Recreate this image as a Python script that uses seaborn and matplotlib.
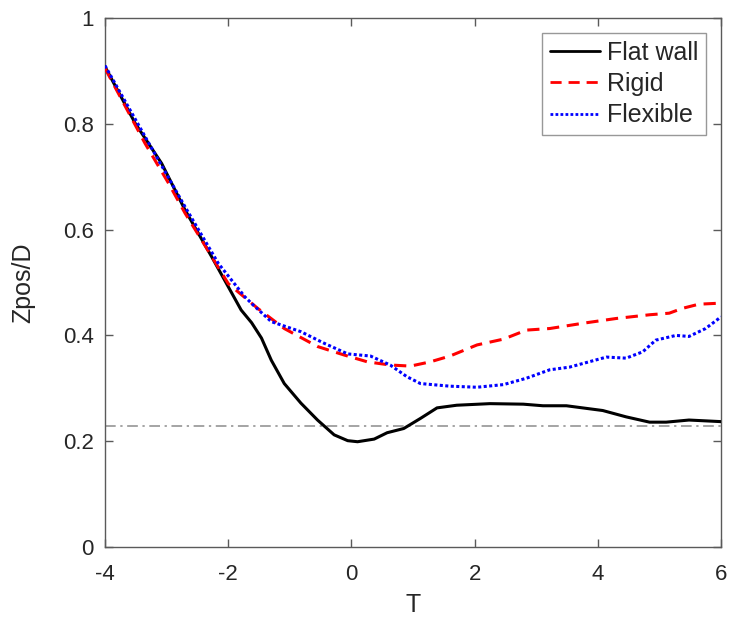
import numpy as np
import pandas as pd
import matplotlib
matplotlib.use("Agg")
import matplotlib.pyplot as plt
import seaborn as sns

# Vertical position of the body (Zpos/D) versus time T for three wall types
t_flat = [-4.0, -3.51, -3.08, -2.70, -2.27, -1.79, -1.62, -1.46, -1.30, -1.09, -0.82,
          -0.55, -0.28, -0.06, 0.10, 0.37, 0.58, 0.85, 1.12, 1.39, 1.71, 2.25, 2.79,
          3.11, 3.49, 4.08, 4.46, 4.84, 5.11, 5.48, 6.0]
z_flat = [0.908, 0.801, 0.725, 0.637, 0.549, 0.448, 0.424, 0.395, 0.353, 0.309, 0.272,
          0.240, 0.212, 0.201, 0.199, 0.204, 0.216, 0.224, 0.243, 0.263, 0.268, 0.271, 0.270,
          0.267, 0.267, 0.258, 0.246, 0.236, 0.236, 0.240, 0.237]

t_rigid = [-4.0, -3.35, -2.97, -2.70, -2.43, -2.00, -1.52, -1.09, -0.55, -0.12, 0.26,
           0.63, 0.96, 1.28, 1.60, 2.04, 2.47, 2.84, 3.22, 3.76, 4.30, 4.84, 5.16, 5.37,
           5.64, 6.0]
z_rigid = [0.905, 0.763, 0.688, 0.631, 0.580, 0.498, 0.451, 0.413, 0.379, 0.363, 0.350,
           0.344, 0.342, 0.350, 0.361, 0.382, 0.393, 0.410, 0.413, 0.423, 0.432, 0.439, 0.442,
           0.451, 0.459, 0.461]

t_flex = [-4.0, -3.35, -2.70, -2.16, -1.73, -1.59, -1.30, -0.82, -0.44, -0.06, 0.31,
          0.63, 0.90, 1.12, 1.60, 2.04, 2.47, 2.84, 3.22, 3.54, 4.14, 4.46, 4.73, 4.94,
          5.27, 5.48, 5.75, 6.0]
z_flex = [0.910, 0.776, 0.643, 0.536, 0.473, 0.457, 0.426, 0.407, 0.385, 0.365, 0.361,
          0.344, 0.322, 0.309, 0.304, 0.302, 0.307, 0.319, 0.335, 0.340, 0.359, 0.357, 0.369,
          0.391, 0.400, 0.398, 0.413, 0.435]

z_ref = 0.228  # reference height (dash-dot line)

labels = ["Flat wall", "Rigid", "Flexible"]
colors = ["black", "#ff0000", "#0000ff"]

df = pd.concat([
    pd.DataFrame({"T": t_flat, "Z": z_flat, "case": labels[0]}),
    pd.DataFrame({"T": t_rigid, "Z": z_rigid, "case": labels[1]}),
    pd.DataFrame({"T": t_flex, "Z": z_flex, "case": labels[2]}),
], ignore_index=True)

sns.set_theme(style="ticks")
plt.rcParams["font.family"] = ["Liberation Sans", "DejaVu Sans"]
axis_col = "#5a5a5a"
text_col = "#262626"

fig = plt.figure(figsize=(7.29, 6.17), dpi=100)
ax = fig.add_axes([105 / 729, 1 - 547 / 617, (721 - 105) / 729, (547 - 18) / 617])

ax.axhline(z_ref, color="#8c8c8c", lw=1.1, ls=(0, (7, 3, 1.5, 3)), zorder=1)

sns.lineplot(data=df, x="T", y="Z", hue="case", style="case",
             hue_order=labels, style_order=labels,
             palette=dict(zip(labels, colors)),
             dashes={labels[0]: "", labels[1]: (4, 2.5), labels[2]: (1, 0.8)},
             linewidth=2.2, sort=False, estimator=None, ax=ax, zorder=3)

ax.set_xlim(-4, 6)
ax.set_ylim(0, 1)
ax.set_xticks([-4, -2, 0, 2, 4, 6])
ax.set_xticklabels(["-4", "-2", "0", "2", "4", "6"])
ax.set_yticks([0, 0.2, 0.4, 0.6, 0.8, 1])
ax.set_yticklabels(["0", "0.2", "0.4", "0.6", "0.8", "1"])
ax.set_xlabel("T", fontsize=18, color=text_col, labelpad=6)
ax.set_ylabel("Zpos/D", fontsize=18, color=text_col, labelpad=20)

for s in ax.spines.values():
    s.set_visible(True)
    s.set_color(axis_col)
    s.set_linewidth(1.0)
ax.tick_params(direction="in", length=6, width=1.0, colors=axis_col,
               labelcolor=text_col, labelsize=16, top=True, right=True)
ax.tick_params(axis="x", pad=12)
ax.tick_params(axis="y", pad=8)

leg = ax.legend(loc="upper right", fontsize=18, frameon=True, fancybox=False,
                handlelength=2.0, handletextpad=0.3, borderpad=0.3,
                labelspacing=0.3, borderaxespad=0.6)
leg.get_frame().set_edgecolor("#7f7f7f")
leg.get_frame().set_linewidth(1.0)
for line in leg.get_lines():
    line.set_linewidth(2.0)

fig.savefig("out.png", dpi=100)
